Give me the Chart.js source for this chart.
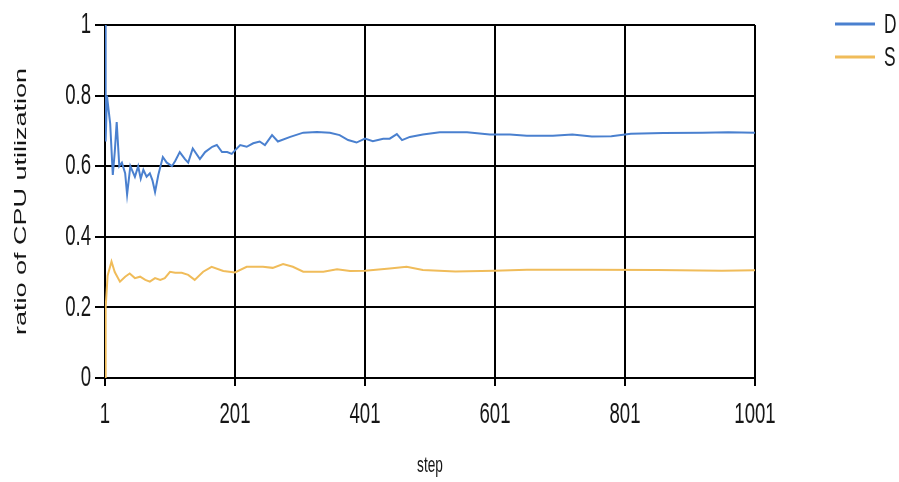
<!DOCTYPE html>
<html>
<head>
<meta charset="utf-8">
<script src="https://cdn.jsdelivr.net/npm/chart.js@4.4.1/dist/chart.umd.min.js"></script>
<style>
  html, body { margin: 0; padding: 0; background: #ffffff; }
  canvas { display: block; }
</style>
</head>
<body>
<canvas id="chart" width="899" height="482"></canvas>
<script>
// Axis ticks
const xTicks = [1, 201, 401, 601, 801, 1001];
const yTicks = [0, 0.2, 0.4, 0.6, 0.8, 1];
const yTickLabels = ['0', '0.2', '0.4', '0.6', '0.8', '1'];

// Series names and titles
const seriesNames = ['D', 'S'];
const xTitle = 'step';
const yTitle = 'ratio of CPU utilization';

// Series D: ratio per step
const dSteps = [1, 2, 4, 9, 13, 16, 19, 23, 27, 32, 35, 40, 47, 52, 56, 60, 65, 70, 74, 78, 83, 90, 96, 104, 109, 116, 124, 129, 136, 147, 155, 166, 173, 181, 189, 196, 201, 209, 219, 229, 239, 247, 258, 267, 286, 306, 327, 347, 362, 375, 388, 401, 413, 429, 439, 450, 458, 470, 490, 516, 558, 593, 624, 650, 690, 720, 750, 780, 810, 860, 920, 960, 1001];
const dValues = [1.0, 0.67, 0.80, 0.72, 0.575, 0.64, 0.725, 0.60, 0.61, 0.58, 0.52, 0.60, 0.57, 0.60, 0.565, 0.59, 0.57, 0.58, 0.56, 0.527, 0.575, 0.626, 0.61, 0.60, 0.615, 0.64, 0.62, 0.61, 0.65, 0.62, 0.64, 0.655, 0.66, 0.64, 0.64, 0.635, 0.645, 0.66, 0.655, 0.665, 0.67, 0.66, 0.688, 0.67, 0.683, 0.695, 0.697, 0.695, 0.688, 0.674, 0.667, 0.678, 0.671, 0.678, 0.678, 0.691, 0.674, 0.683, 0.69, 0.696, 0.696, 0.69, 0.69, 0.686, 0.686, 0.69, 0.684, 0.685, 0.692, 0.694, 0.695, 0.696, 0.695];

// Series S: ratio per step
const sSteps = [1, 2, 5, 11, 16, 24, 32, 39, 47, 55, 63, 70, 78, 86, 93, 101, 109, 119, 129, 139, 152, 165, 183, 201, 219, 244, 259, 275, 290, 306, 337, 358, 378, 401, 439, 465, 490, 540, 600, 650, 750, 850, 950, 1001];
const sValues = [0.0, 0.20, 0.29, 0.33, 0.30, 0.273, 0.287, 0.296, 0.283, 0.287, 0.278, 0.273, 0.283, 0.278, 0.283, 0.301, 0.298, 0.298, 0.292, 0.278, 0.301, 0.315, 0.303, 0.299, 0.315, 0.315, 0.312, 0.323, 0.315, 0.301, 0.301, 0.308, 0.303, 0.304, 0.310, 0.315, 0.306, 0.302, 0.304, 0.307, 0.307, 0.306, 0.304, 0.305];

const seriesColors = ['#4a80cf', '#f0bc5a'];

const FONT_FAMILY = "'Liberation Sans', Arial, Helvetica, sans-serif";
const TEXT_COLOR = '#161616';
const SQUEEZE = 0.62; // narrow lettering

function toPoints(steps, values) {
  return steps.map((s, i) => ({ x: s, y: values[i] }));
}

// Draws text with narrowed glyphs; rotation in radians
function narrowText(ctx, text, x, y, size, align, rotate) {
  ctx.save();
  ctx.translate(x, y);
  if (rotate) {
    ctx.rotate(rotate);
    ctx.scale(1, SQUEEZE);
  } else {
    ctx.scale(SQUEEZE, 1);
  }
  ctx.font = size + 'px ' + FONT_FAMILY;
  ctx.fillStyle = TEXT_COLOR;
  ctx.textAlign = align;
  ctx.textBaseline = 'middle';
  ctx.fillText(text, 0, 0);
  ctx.restore();
}

const labelPlugin = {
  id: 'narrowLabels',
  afterDraw(chart) {
    const { ctx, scales, chartArea } = chart;
    const xs = scales.x, ys = scales.y;
    // y tick labels
    yTicks.forEach((v, i) => {
      narrowText(ctx, yTickLabels[i], 91, ys.getPixelForValue(v), 30, 'right');
    });
    // x tick labels
    xTicks.forEach(v => {
      narrowText(ctx, String(v), xs.getPixelForValue(v), 415, 30, 'center');
    });
    // axis titles
    narrowText(ctx, xTitle, (chartArea.left + chartArea.right) / 2, 466, 22, 'center');
    narrowText(ctx, yTitle, 21, (chartArea.top + chartArea.bottom) / 2, 27, 'center', -Math.PI / 2);
    // legend
    const legendRows = [24, 57];
    seriesNames.forEach((name, i) => {
      const ly = legendRows[i];
      ctx.save();
      ctx.strokeStyle = seriesColors[i];
      ctx.lineWidth = 3;
      ctx.beginPath();
      ctx.moveTo(835, ly);
      ctx.lineTo(875, ly);
      ctx.stroke();
      ctx.restore();
      narrowText(ctx, name, 884, ly + 1, 28, 'left');
    });
  }
};

new Chart(document.getElementById('chart'), {
  type: 'line',
  data: {
    datasets: [
      { label: seriesNames[0], data: toPoints(dSteps, dValues), borderColor: seriesColors[0], borderWidth: 2 },
      { label: seriesNames[1], data: toPoints(sSteps, sValues), borderColor: seriesColors[1], borderWidth: 2 }
    ]
  },
  options: {
    responsive: false,
    animation: false,
    devicePixelRatio: 1,
    layout: { padding: { left: 0, right: 144, top: 25, bottom: 0 } },
    elements: {
      point: { radius: 0, hoverRadius: 0 },
      line: { tension: 0, fill: false }
    },
    plugins: {
      legend: { display: false },
      tooltip: { enabled: false }
    },
    scales: {
      x: {
        type: 'linear',
        min: 1,
        max: 1001,
        afterBuildTicks(scale) { scale.ticks = xTicks.map(v => ({ value: v })); },
        afterFit(scale) { scale.height = 104; },
        ticks: { display: false },
        grid: { color: '#000000', lineWidth: 2, tickLength: 8, drawTicks: true },
        border: { display: true, color: '#000000', width: 2 }
      },
      y: {
        type: 'linear',
        min: 0,
        max: 1,
        afterBuildTicks(scale) { scale.ticks = yTicks.map(v => ({ value: v })); },
        afterFit(scale) { scale.width = 105; },
        ticks: { display: false },
        grid: { color: '#000000', lineWidth: 2, tickLength: 10, drawTicks: true },
        border: { display: true, color: '#000000', width: 2 }
      }
    }
  },
  plugins: [labelPlugin]
});
</script>
</body>
</html>
